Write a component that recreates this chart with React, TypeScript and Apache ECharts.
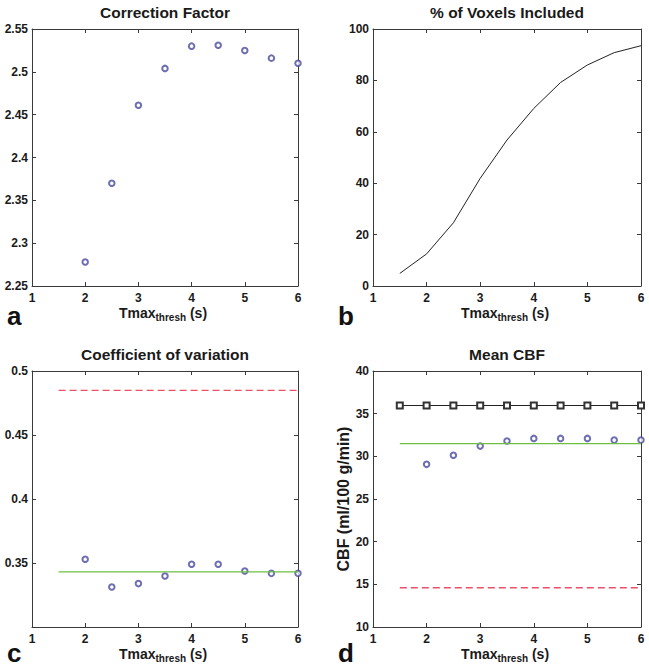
import React, { useEffect, useRef } from "react";
import * as echarts from "echarts";

// ---- data ----
const tmaxCF = [2, 2.5, 3, 3.5, 4, 4.5, 5, 5.5, 6];
const correctionFactor = [2.278, 2.37, 2.461, 2.504, 2.53, 2.531, 2.525, 2.516, 2.51];

const tmaxVox = [1.5, 2, 2.5, 3, 3.5, 4, 4.5, 5, 5.5, 6];
const voxelsPct = [4.9, 12.5, 24.6, 41.9, 56.8, 69.1, 79.2, 86.0, 90.8, 93.5];

const tmaxCov = [2, 2.5, 3, 3.5, 4, 4.5, 5, 5.5, 6];
const covValues = [0.3529, 0.3313, 0.3339, 0.3398, 0.349, 0.349, 0.3438, 0.3419, 0.3419];
const covRef = 0.4849;
const covMean = 0.343;

const tmaxCbf = [2, 2.5, 3, 3.5, 4, 4.5, 5, 5.5, 6];
const cbfValues = [29.06, 30.12, 31.2, 31.8, 32.1, 32.1, 32.1, 31.9, 31.9];
const tmaxSquares = [1.5, 2, 2.5, 3, 3.5, 4, 4.5, 5, 5.5, 6];
const cbfSquare = 35.95;
const cbfMean = 31.5;
const cbfRef = 14.6;
const refLineX = [1.5, 6];

const titles = ["Correction Factor", "% of Voxels Included", "Coefficient of variation", "Mean CBF"];
const letters = ["a", "b", "c", "d"];
const yRanges = [
  { min: 2.25, max: 2.55, interval: 0.05 },
  { min: 0, max: 100, interval: 20 },
  { min: 0.3, max: 0.5, interval: 0.05 },
  { min: 10, max: 40, interval: 5 },
];

const FONT = "Liberation Sans, Arial, Helvetica, sans-serif";
const AXIS_COLOR = "#3a3a3a";
const TEXT_COLOR = "#1a1a1a";
const BLUE = "#4a4aa0";
const GREEN = "#6cc040";
const RED = "#ec5068";

const grids = [
  { left: 32, top: 29, width: 266, height: 257 },
  { left: 373, top: 29, width: 268, height: 257 },
  { left: 32, top: 371, width: 266, height: 256 },
  { left: 373, top: 371, width: 268, height: 256 },
];

function fmt(v: number) {
  return String(+v.toFixed(2));
}

export default function App() {
  const ref = useRef<HTMLDivElement>(null);
  useEffect(() => {
    document.body.style.margin = "0";
    if (!ref.current) return;
    const chart = echarts.init(ref.current, undefined, { renderer: "svg" });

    const xAxes: any[] = [];
    const yAxes: any[] = [];
    grids.forEach((_, i) => {
      const base = {
        gridIndex: i,
        type: "value",
        min: 1,
        max: 6,
        interval: 1,
        axisLine: { show: true, onZero: false, lineStyle: { color: AXIS_COLOR, width: 1 } },
        axisTick: { show: true, inside: true, length: 4, lineStyle: { color: AXIS_COLOR } },
        splitLine: { show: false },
      };
      xAxes.push({
        ...base,
        position: "bottom",
        axisLabel: {
          show: true,
          margin: 5,
          color: TEXT_COLOR,
          fontFamily: FONT,
          fontWeight: "bold",
          fontSize: 12,
          lineHeight: 13,
          formatter: (v: number) => fmt(v),
        },
      });
      xAxes.push({ ...base, position: "top", axisLabel: { show: false } });
      const yr = yRanges[i];
      const ybase = {
        gridIndex: i,
        type: "value",
        min: yr.min,
        max: yr.max,
        interval: yr.interval,
        axisLine: { show: true, onZero: false, lineStyle: { color: AXIS_COLOR, width: 1 } },
        axisTick: { show: true, inside: true, length: 4, lineStyle: { color: AXIS_COLOR } },
        splitLine: { show: false },
      };
      yAxes.push({
        ...ybase,
        position: "left",
        axisLabel: {
          show: true,
          margin: 4,
          color: TEXT_COLOR,
          fontFamily: FONT,
          fontWeight: "bold",
          fontSize: 12,
          formatter: (v: number) => (i === 2 && Math.abs(v - 0.3) < 1e-6 ? "" : fmt(v)),
        },
      });
      yAxes.push({ ...ybase, position: "right", axisLabel: { show: false } });
    });

    const circle = (gi: number, data: number[][]) => ({
      type: "scatter",
      xAxisIndex: gi * 2,
      yAxisIndex: gi * 2,
      data,
      symbol: "emptyCircle",
      symbolSize: 5.5,
      clip: false,
      itemStyle: { color: BLUE, borderColor: BLUE, borderWidth: 0.8 },
    });
    const hline = (gi: number, y: number, color: string, dashed: boolean) => ({
      type: "line",
      xAxisIndex: gi * 2,
      yAxisIndex: gi * 2,
      data: refLineX.map((x) => [x, y]),
      showSymbol: false,
      symbol: "none",
      clip: false,
      lineStyle: { color, width: 1.3, type: dashed ? [7, 4] : "solid" },
    });

    const series: any[] = [
      circle(0, tmaxCF.map((x, k) => [x, correctionFactor[k]])),
      {
        type: "line",
        xAxisIndex: 2,
        yAxisIndex: 2,
        data: tmaxVox.map((x, k) => [x, voxelsPct[k]]),
        symbol: "none",
        showSymbol: false,
        lineStyle: { color: "#222", width: 1 },
      },
      hline(2, covRef, RED, true),
      hline(2, covMean, GREEN, false),
      circle(2, tmaxCov.map((x, k) => [x, covValues[k]])),
      {
        type: "line",
        xAxisIndex: 6,
        yAxisIndex: 6,
        data: tmaxSquares.map((x) => [x, cbfSquare]),
        symbol: "emptyRect",
        symbolSize: 6,
        showSymbol: true,
        clip: false,
        lineStyle: { color: "#222", width: 1.1 },
        itemStyle: { color: "#333", borderColor: "#333", borderWidth: 0.8 },
      },
      hline(3, cbfMean, GREEN, false),
      hline(3, cbfRef, RED, true),
      circle(3, tmaxCbf.map((x, k) => [x, cbfValues[k]])),
    ];

    const graphics: any[] = [];
    grids.forEach((g, i) => {
      const cx = g.left + g.width / 2;
      graphics.push({
        type: "text",
        x: cx,
        y: g.top - 17,
        style: {
          text: titles[i],
          font: `bold 15.5px ${FONT}`,
          fill: TEXT_COLOR,
          textAlign: "center",
          textVerticalAlign: "middle",
        },
      });
      graphics.push({
        type: "text",
        x: cx - 2,
        y: g.top + g.height + 20,
        style: {
          text: "{m|Tmax}{s|thresh}{m| (s)}",
          fill: TEXT_COLOR,
          textAlign: "center",
          textVerticalAlign: "top",
          rich: {
            m: { font: `bold 14px ${FONT}`, fill: TEXT_COLOR, lineHeight: 16, verticalAlign: "top" },
            s: { font: `bold 10px ${FONT}`, fill: TEXT_COLOR, lineHeight: 10, verticalAlign: "bottom", padding: [10, 0, 0, 0] },
          },
        },
      });
      graphics.push({
        type: "text",
        x: i % 2 === 0 ? 7 : 338,
        y: i < 2 ? 316 : 653,
        style: {
          text: letters[i],
          font: `bold 26px ${FONT}`,
          fill: "#111",
          textAlign: "left",
          textVerticalAlign: "middle",
        },
      });
    });
    graphics.push({
      type: "text",
      x: 343,
      y: 499,
      rotation: Math.PI / 2,
      style: {
        text: "CBF (ml/100 g/min)",
        font: `bold 16px ${FONT}`,
        fill: TEXT_COLOR,
        textAlign: "center",
        textVerticalAlign: "middle",
      },
    });

    chart.setOption({
      animation: false,
      backgroundColor: "#ffffff",
      grid: grids.map((g) => ({ ...g, containLabel: false })),
      xAxis: xAxes,
      yAxis: yAxes,
      series,
      graphic: graphics,
    });
    return () => chart.dispose();
  }, []);
  return <div ref={ref} style={{ width: 649, height: 669 }} />;
}
